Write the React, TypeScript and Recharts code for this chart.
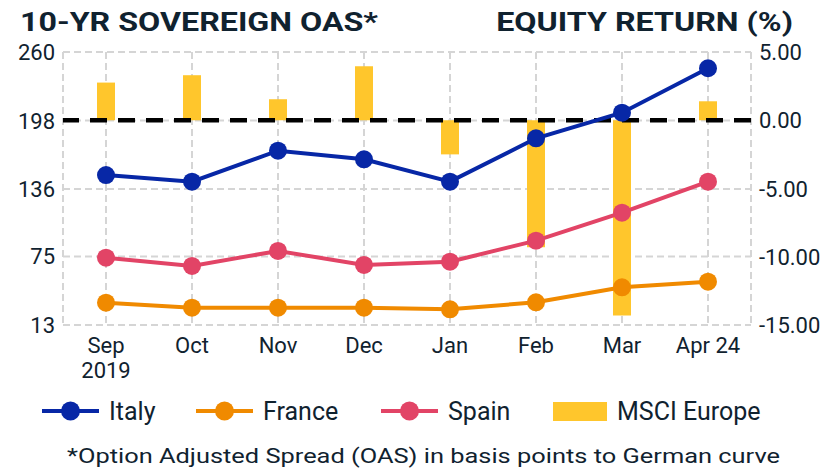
import React from 'react';
import { ComposedChart, Line, Bar, XAxis, YAxis, CartesianGrid, ReferenceLine } from 'recharts';

const months = ['Sep\n2019', 'Oct', 'Nov', 'Dec', 'Jan', 'Feb', 'Mar', 'Apr 24'];
const italy = [148.7, 142.7, 170.7, 162.9, 142.7, 181.9, 205.1, 245.3];
const france = [33.2, 28.7, 28.7, 28.7, 27.2, 33.5, 47.1, 52.2];
const spain = [73.9, 66.4, 80.0, 67.3, 70.3, 89.3, 114.6, 142.7];
const msciEurope = [2.76, 3.3, 1.54, 3.96, -2.5, -9.3, -14.3, 1.39];
const leftTicks = [13, 75, 136, 198, 260];
const rightTicks = [-15, -10, -5, 0, 5];

const data = months.map((m, i) => ({
  month: m,
  italy: italy[i],
  france: france[i],
  spain: spain[i],
  msci: msciEurope[i],
}));

const TEXT = '#10222F';
const FONT = 'Roboto';
const C_ITALY = '#0727A6';
const C_FRANCE = '#F08A00';
const C_SPAIN = '#E24466';
const C_BAR = '#FFC62C';

const XTick = (props: any) => {
  const { x, y, payload } = props;
  const lines = String(payload.value).split('\n');
  return (
    <text x={x} y={y + 20} textAnchor="middle" fill={TEXT} fontFamily={FONT} fontSize={22}>
      {lines.map((l, i) => (
        <tspan key={i} x={x} dy={i === 0 ? 0 : 25}>{l}</tspan>
      ))}
    </text>
  );
};

const LeftTick = (props: any) => {
  const { x, y, payload } = props;
  return (
    <text x={x} y={y + 8} textAnchor="end" fill={TEXT} fontFamily={FONT} fontSize={22}>
      {payload.value}
    </text>
  );
};

const RightTick = (props: any) => {
  const { x, y, payload } = props;
  return (
    <text x={x} y={y + 8} textAnchor="start" fill={TEXT} fontFamily={FONT} fontSize={22}>
      {Number(payload.value).toFixed(2)}
    </text>
  );
};

const legendItems = [
  { name: 'Italy', color: C_ITALY, x: 42, type: 'line' },
  { name: 'France', color: C_FRANCE, x: 196, type: 'line' },
  { name: 'Spain', color: C_SPAIN, x: 381, type: 'line' },
  { name: 'MSCI Europe', color: C_BAR, x: 553, type: 'bar' },
];

export default function App() {
  return (
    <div style={{ position: 'absolute', left: 0, top: 0, width: 839, height: 469, background: '#fff' }}>
      <ComposedChart
        width={839}
        height={390}
        data={data}
        margin={{ top: 52, right: 0, left: 0, bottom: 0 }}
      >
        <CartesianGrid
          yAxisId="left"
          stroke="#D5D5D5"
          strokeWidth={2}
          strokeDasharray="7 4"
        />
        <XAxis
          dataKey="month"
          height={65}
          axisLine={false}
          tickLine={false}
          interval={0}
          tick={<XTick />}
        />
        <YAxis
          yAxisId="left"
          orientation="left"
          width={63}
          domain={[13, 260]}
          ticks={leftTicks}
          allowDataOverflow
          axisLine={false}
          tickLine={false}
          tick={<LeftTick />}
        />
        <YAxis
          yAxisId="right"
          orientation="right"
          width={88}
          domain={[-15, 5]}
          ticks={rightTicks}
          allowDataOverflow
          axisLine={false}
          tickLine={false}
          tick={<RightTick />}
        />
        <Bar yAxisId="right" dataKey="msci" fill={C_BAR} barSize={18} isAnimationActive={false} />
        <ReferenceLine yAxisId="right" y={0} stroke="#000" strokeWidth={4.5} strokeDasharray="17 11" />
        <Line yAxisId="left" dataKey="france" stroke={C_FRANCE} strokeWidth={4}
          dot={{ r: 9, fill: C_FRANCE, stroke: 'none' }} activeDot={false} isAnimationActive={false} />
        <Line yAxisId="left" dataKey="spain" stroke={C_SPAIN} strokeWidth={4}
          dot={{ r: 9, fill: C_SPAIN, stroke: 'none' }} activeDot={false} isAnimationActive={false} />
        <Line yAxisId="left" dataKey="italy" stroke={C_ITALY} strokeWidth={4}
          dot={{ r: 9, fill: C_ITALY, stroke: 'none' }} activeDot={false} isAnimationActive={false} />
      </ComposedChart>
      <svg width={839} height={469} style={{ position: 'absolute', left: 0, top: 0, pointerEvents: 'none' }}>
        <text transform="translate(20,31) scale(1.24,1)" fill={TEXT} fontFamily={FONT} fontWeight={700} fontSize={26}>10-YR SOVEREIGN OAS*</text>
        <text transform="translate(793,31) scale(1.24,1)" textAnchor="end" fill={TEXT} fontFamily={FONT} fontWeight={700} fontSize={26}>EQUITY RETURN (%)</text>
        {legendItems.map((it) => (
          <g key={it.name}>
            {it.type === 'line' ? (
              <g>
                <line x1={it.x} x2={it.x + 57} y1={411} y2={411} stroke={it.color} strokeWidth={4} />
                <circle cx={it.x + 28.5} cy={411} r={9.5} fill={it.color} />
              </g>
            ) : (
              <rect x={it.x} y={402} width={54} height={19} fill={it.color} />
            )}
            <text x={it.x + (it.type === 'line' ? 67 : 64)} y={420} fill={TEXT} fontFamily={FONT} fontSize={25}>{it.name}</text>
          </g>
        ))}
        <text transform="translate(67,463) scale(1.21,1)" fill={TEXT} fontFamily={FONT} fontSize={21}>*Option Adjusted Spread (OAS) in basis points to German curve</text>
      </svg>
    </div>
  );
}
